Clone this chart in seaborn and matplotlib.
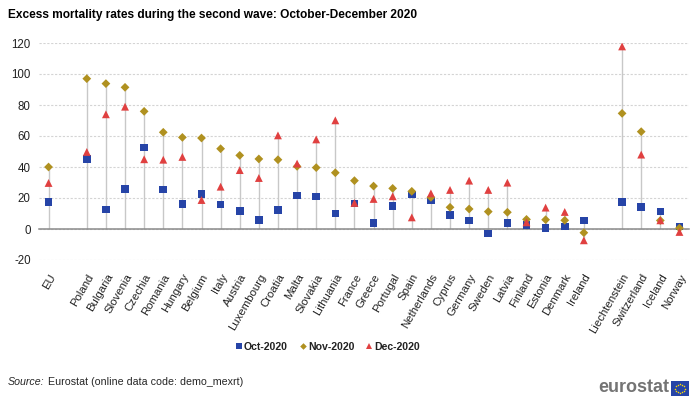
import numpy as np
import pandas as pd
import matplotlib
matplotlib.use("Agg")
import matplotlib.pyplot as plt
import seaborn as sns

categories = ["EU", "", "Poland", "Bulgaria", "Slovenia", "Czechia", "Romania", "Hungary",
              "Belgium", "Italy", "Austria", "Luxembourg", "Croatia", "Malta", "Slovakia",
              "Lithuania", "France", "Greece", "Portugal", "Spain", "Netherlands", "Cyprus",
              "Germany", "Sweden", "Latvia", "Finland", "Estonia", "Denmark", "Ireland", " ",
              "Liechtenstein", "Switzerland", "Iceland", "Norway"]

countries = ["EU", "Poland", "Bulgaria", "Slovenia", "Czechia", "Romania", "Hungary",
             "Belgium", "Italy", "Austria", "Luxembourg", "Croatia", "Malta", "Slovakia",
             "Lithuania", "France", "Greece", "Portugal", "Spain", "Netherlands", "Cyprus",
             "Germany", "Sweden", "Latvia", "Finland", "Estonia", "Denmark", "Ireland",
             "Liechtenstein", "Switzerland", "Iceland", "Norway"]

oct_2020 = [17.4, 45.0, 12.5, 26.0, 52.7, 25.4, 16.1, 22.6, 15.7, 11.8, 6.0, 12.3, 21.5, 20.9,
            10.1, 16.4, 3.9, 14.8, 22.2, 18.5, 9.0, 5.6, -3.0, 3.9, 2.4, 0.6, 1.7, 5.6,
            17.4, 14.0, 11.4, 1.7]
nov_2020 = [40.0, 97.0, 93.8, 91.4, 75.9, 62.4, 59.1, 58.7, 51.8, 47.5, 45.2, 44.7, 40.4, 39.6,
            36.3, 31.2, 27.7, 26.2, 24.3, 20.4, 14.0, 12.9, 11.2, 10.8, 6.2, 6.0, 5.6, -2.4,
            74.6, 62.8, 5.5, 0.6]
dec_2020 = [29.7, 49.7, 74.0, 78.9, 45.0, 44.7, 46.5, 18.7, 27.3, 38.0, 32.9, 60.4, 42.2, 57.8,
            70.1, 16.8, 19.4, 21.1, 7.5, 23.0, 25.2, 31.2, 25.2, 29.9, 4.3, 13.8, 11.0, -7.3,
            117.8, 48.0, 5.6, -1.9]

series_names = ["Oct-2020", "Nov-2020", "Dec-2020"]
yticks = [-20, 0, 20, 40, 60, 80, 100, 120]

colors = {"Oct-2020": "#2644A7", "Nov-2020": "#B09120", "Dec-2020": "#E04040"}
markers = {"Oct-2020": "s", "Nov-2020": "D", "Dec-2020": "^"}
sizes = {"Oct-2020": 30, "Nov-2020": 20, "Dec-2020": 32}

pos = {c: i for i, c in enumerate(categories)}
rows = []
for name, vals in zip(series_names, [oct_2020, nov_2020, dec_2020]):
    for c, v in zip(countries, vals):
        rows.append({"country": c, "x": pos[c], "value": v, "series": name})
df = pd.DataFrame(rows)

sns.set_theme(style="white")
plt.rcParams["font.family"] = ["Liberation Sans", "DejaVu Sans"]

fig = plt.figure(figsize=(7.0, 4.03), dpi=100)
ax = fig.add_axes([39/700, 1-260/403, 650/700, 217/403])

# high-low lines (including zero)
rng = df.groupby("x")["value"].agg(["min", "max"])
ax.vlines(rng.index, np.minimum(rng["min"], 0), np.maximum(rng["max"], 0),
          color="#c8c8c8", lw=1.0, zorder=1)

sns.scatterplot(data=df, x="x", y="value", hue="series", style="series", size="series",
                palette=colors, markers=markers, sizes=sizes, linewidth=0,
                hue_order=series_names, style_order=series_names, size_order=series_names,
                ax=ax, zorder=3)

ax.set_xlim(-0.5, len(categories) - 0.5)
ax.set_ylim(-20, 120)
ax.set_yticks(yticks)
ax.set_yticklabels([str(t) for t in yticks], fontsize=8.3, color="#222222")
ax.yaxis.grid(True, color="#d4d4d4", linestyle=(0, (2, 1.5)), lw=0.8)
ax.xaxis.grid(False)
ax.set_axisbelow(True)
for s in ["left", "right", "top"]:
    ax.spines[s].set_visible(False)
ax.spines["bottom"].set_position(("data", 0))
ax.spines["bottom"].set_color("#8a8a8a")
ax.spines["bottom"].set_linewidth(1.1)
ax.tick_params(axis="y", length=0, pad=6)

ax.set_xticks(range(len(categories)))
ax.set_xticklabels(categories, rotation=60, ha="right", rotation_mode="anchor",
                   fontsize=8.2, color="#222222")
ax.set_xticks(np.arange(-0.5, len(categories), 1.0), minor=True)
ax.tick_params(axis="x", which="major", length=0, pad=31)
ax.tick_params(axis="x", which="minor", length=4, width=0.9, color="#8a8a8a", direction="out")
ax.set_xlabel("")
ax.set_ylabel("")

sns.move_legend(ax, "center", bbox_to_anchor=(327/700, 1-347/403), bbox_transform=fig.transFigure,
                ncol=3, frameon=False, title=None, fontsize=7.6, handletextpad=0.0,
                columnspacing=0.9, markerscale=0.75, handlelength=1.0)
for t in ax.get_legend().get_texts():
    t.set_fontweight("bold")
    t.set_color("#222222")

fig.text(8/700, 1-15/403, "Excess mortality rates during the second wave: October-December 2020",
         fontsize=8.6, fontweight="bold", va="center", ha="left", color="#000000")

src = fig.text(8/700, 1-382/403, "Source:", fontsize=7.7, style="italic", va="center", ha="left")
plt.annotate("Eurostat (online data code: demo_mexrt)", xy=(1, 0.5), xycoords=src,
             xytext=(2.2, 0), textcoords="offset points",
             fontsize=7.7, va="center", ha="left")

fig.text(669/700, 1-388/403, "eurostat", fontsize=13, fontweight="bold", color="#747474",
         va="center", ha="right")
lax = fig.add_axes([671/700, 1-396/403, 18/700, 15/403])
lax.set_xlim(-1.2, 1.2)
lax.set_ylim(-1.1, 1.1)
lax.set_facecolor("#2644A7")
ang = np.linspace(0, 2*np.pi, 12, endpoint=False)
lax.scatter(0.65*np.cos(ang), 0.65*np.sin(ang), s=1.2, color="#FFDD00", linewidths=0)
lax.set_xticks([])
lax.set_yticks([])
for s in lax.spines.values():
    s.set_visible(False)

fig.savefig("out.png", dpi=100)
